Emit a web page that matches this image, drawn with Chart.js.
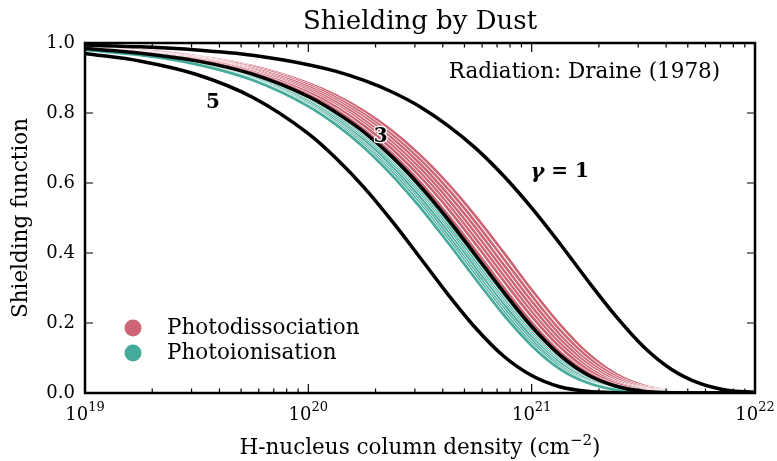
<!DOCTYPE html>
<html>
<head>
<meta charset="utf-8">
<title>Shielding by Dust</title>
<script src="https://cdn.jsdelivr.net/npm/chart.js@4.4.1/dist/chart.umd.min.js"></script>
<style>
  html, body { margin: 0; padding: 0; background: #fff; }
  canvas { display: block; }
</style>
</head>
<body>
<canvas id="shieldChart" width="777" height="461"></canvas>
<script>
// H-nucleus column density (cm^-2): quarter decades up to 1e20, eighth decades after
const columnDensity = [1e19, 1.778e19, 3.162e19, 5.623e19, 1e20, 1.334e20, 1.778e20, 2.371e20,
                       3.162e20, 4.217e20, 5.623e20, 7.499e20, 1e21, 1.334e21, 1.778e21,
                       2.371e21, 3.162e21, 4.217e21, 5.623e21, 7.499e21, 1e22];

// black reference curves, labelled by gamma
const shieldGamma1 = [0.994, 0.989, 0.980, 0.965, 0.938, 0.919, 0.893, 0.860, 0.818, 0.764, 0.699,
                      0.620, 0.529, 0.428, 0.322, 0.221, 0.133, 0.068, 0.028, 0.008, 0.002];
const shieldGamma3 = [0.984, 0.971, 0.949, 0.911, 0.847, 0.801, 0.745, 0.675, 0.592, 0.497, 0.393,
                      0.288, 0.190, 0.109, 0.052, 0.020, 0.005, 0.001, 0.000, 0.000, 0.000];
const shieldGamma5 = [0.970, 0.948, 0.910, 0.845, 0.741, 0.670, 0.587, 0.491, 0.387, 0.282, 0.185,
                      0.105, 0.050, 0.018, 0.005, 0.001, 0.000, 0.000, 0.000, 0.000, 0.000];

// one row per photodissociation rate
const photodissociation = [
  [0.988, 0.979, 0.962, 0.934, 0.885, 0.850, 0.805, 0.749, 0.680, 0.598, 0.504, 0.401, 0.295, 0.197, 0.114, 0.055, 0.021, 0.006, 0.001, 0.000, 0.000],
  [0.987, 0.978, 0.960, 0.931, 0.880, 0.843, 0.796, 0.738, 0.667, 0.583, 0.487, 0.383, 0.278, 0.181, 0.103, 0.048, 0.017, 0.005, 0.001, 0.000, 0.000],
  [0.987, 0.976, 0.958, 0.927, 0.875, 0.836, 0.788, 0.728, 0.655, 0.568, 0.471, 0.366, 0.262, 0.167, 0.092, 0.042, 0.014, 0.004, 0.001, 0.000, 0.000],
  [0.986, 0.975, 0.957, 0.924, 0.869, 0.830, 0.780, 0.717, 0.642, 0.554, 0.455, 0.350, 0.247, 0.155, 0.083, 0.036, 0.012, 0.003, 0.000, 0.000, 0.000],
  [0.986, 0.974, 0.955, 0.921, 0.864, 0.823, 0.771, 0.707, 0.630, 0.540, 0.440, 0.335, 0.232, 0.143, 0.075, 0.031, 0.010, 0.002, 0.000, 0.000, 0.000],
  [0.985, 0.973, 0.953, 0.918, 0.859, 0.817, 0.763, 0.697, 0.618, 0.527, 0.425, 0.320, 0.219, 0.132, 0.067, 0.027, 0.008, 0.002, 0.000, 0.000, 0.000],
  [0.984, 0.972, 0.951, 0.914, 0.852, 0.808, 0.752, 0.684, 0.603, 0.509, 0.407, 0.301, 0.202, 0.118, 0.058, 0.022, 0.006, 0.001, 0.000, 0.000, 0.000],
  [0.981, 0.967, 0.942, 0.900, 0.829, 0.778, 0.716, 0.640, 0.552, 0.453, 0.347, 0.244, 0.153, 0.082, 0.035, 0.012, 0.003, 0.000, 0.000, 0.000, 0.000]
];

// one row per photoionisation rate
const photoionisation = [
  [0.983, 0.970, 0.947, 0.908, 0.842, 0.795, 0.737, 0.665, 0.580, 0.484, 0.380, 0.275, 0.179, 0.101, 0.047, 0.017, 0.004, 0.001, 0.000, 0.000, 0.000],
  [0.983, 0.969, 0.946, 0.906, 0.839, 0.791, 0.731, 0.659, 0.573, 0.476, 0.372, 0.267, 0.172, 0.096, 0.044, 0.015, 0.004, 0.001, 0.000, 0.000, 0.000],
  [0.982, 0.969, 0.945, 0.904, 0.835, 0.787, 0.726, 0.653, 0.566, 0.468, 0.363, 0.259, 0.165, 0.091, 0.041, 0.014, 0.003, 0.001, 0.000, 0.000, 0.000],
  [0.982, 0.968, 0.943, 0.902, 0.832, 0.782, 0.721, 0.646, 0.559, 0.460, 0.355, 0.252, 0.159, 0.086, 0.038, 0.013, 0.003, 0.000, 0.000, 0.000, 0.000],
  [0.981, 0.967, 0.942, 0.899, 0.827, 0.776, 0.713, 0.637, 0.548, 0.449, 0.344, 0.241, 0.150, 0.079, 0.034, 0.011, 0.002, 0.000, 0.000, 0.000, 0.000],
  [0.981, 0.966, 0.940, 0.896, 0.823, 0.771, 0.707, 0.630, 0.540, 0.439, 0.334, 0.232, 0.142, 0.074, 0.031, 0.010, 0.002, 0.000, 0.000, 0.000, 0.000],
  [0.980, 0.965, 0.939, 0.894, 0.819, 0.766, 0.701, 0.622, 0.531, 0.430, 0.325, 0.223, 0.135, 0.069, 0.029, 0.009, 0.002, 0.000, 0.000, 0.000, 0.000]
];

// axis ticks
const xMajorTicks = [1e19, 1e20, 1e21, 1e22];
const xTickExponents = ['19', '20', '21', '22'];
const yTickStep = 0.2;

const ROSE = '#CC6677';
const TEAL = '#44AA99';
const FONT = "'DejaVu Serif', 'Liberation Serif', serif";

Chart.defaults.font.family = FONT;
Chart.defaults.color = '#000';

/**
 * Build the line datasets, bottom layer first. Coloured curves get a thin
 * white halo underneath so neighbouring lines stay apart.
 */
function buildDatasets() {
  const layers = [];
  function addCurve(values, color, width, halo) {
    const points = columnDensity.map((n, i) => ({ x: n, y: values[i] }));
    if (halo) {
      layers.push({ data: points.map(p => ({ ...p })), borderColor: '#ffffff', borderWidth: width + 1.3 });
    }
    layers.push({ data: points, borderColor: color, borderWidth: width });
  }
  photodissociation.forEach(v => addCurve(v, ROSE, 2.7, true));
  photoionisation.forEach(v => addCurve(v, TEAL, 2.7, true));
  [shieldGamma1, shieldGamma3, shieldGamma5].forEach(v => addCurve(v, '#000000', 3.5, false));

  // higher order is drawn first
  return layers.map((d, i) => ({
    ...d,
    order: layers.length - i,
    pointRadius: 0,
    pointHoverRadius: 0,
    fill: false,
    cubicInterpolationMode: 'monotone'
  }));
}

/**
 * Title, frame, inward ticks, x tick labels, x title, curve labels and legend
 */
const axisDecor = {
  id: 'axisDecor',
  afterDraw(chart) {
    const { ctx, chartArea: area, scales: { x, y } } = chart;
    const midX = (area.left + area.right) / 2;
    ctx.save();

    // ticks on all four sides
    ctx.strokeStyle = '#000';
    ctx.lineWidth = 1.2;
    ctx.beginPath();
    for (let e = 19; e < 22; e++) {
      for (let m = 2; m < 10; m++) {
        const px = x.getPixelForValue(m * Math.pow(10, e));
        ctx.moveTo(px, area.bottom); ctx.lineTo(px, area.bottom - 4.5);
        ctx.moveTo(px, area.top); ctx.lineTo(px, area.top + 4.5);
      }
    }
    xMajorTicks.forEach(v => {
      const px = x.getPixelForValue(v);
      ctx.moveTo(px, area.bottom); ctx.lineTo(px, area.bottom - 9);
      ctx.moveTo(px, area.top); ctx.lineTo(px, area.top + 9);
    });
    y.ticks.forEach(t => {
      const py = y.getPixelForValue(t.value);
      ctx.moveTo(area.left, py); ctx.lineTo(area.left + 8, py);
      ctx.moveTo(area.right, py); ctx.lineTo(area.right - 8, py);
    });
    ctx.stroke();

    // frame
    ctx.lineWidth = 2.5;
    ctx.strokeRect(area.left, area.top, area.width, area.height);

    // title over the plot box
    ctx.fillStyle = '#000';
    ctx.textBaseline = 'alphabetic';
    ctx.textAlign = 'center';
    ctx.font = `26px ${FONT}`;
    ctx.fillText('Shielding by Dust', midX, 29);

    // x tick labels as 10 with raised exponent
    ctx.textAlign = 'left';
    xMajorTicks.forEach((v, i) => {
      const px = x.getPixelForValue(v);
      ctx.font = `18px ${FONT}`;
      const wBase = ctx.measureText('10').width;
      ctx.font = `13px ${FONT}`;
      const wExp = ctx.measureText(xTickExponents[i]).width;
      const x0 = px - (wBase + wExp) / 2;
      ctx.font = `18px ${FONT}`;
      ctx.fillText('10', x0, area.bottom + 27);
      ctx.font = `13px ${FONT}`;
      ctx.fillText(xTickExponents[i], x0 + wBase, area.bottom + 18);
    });

    // x axis title
    const main = 'H-nucleus column density (cm';
    ctx.font = `21.5px ${FONT}`;
    const wMain = ctx.measureText(main).width;
    const wClose = ctx.measureText(')').width;
    ctx.font = `15px ${FONT}`;
    const wSup = ctx.measureText('\u22122').width;
    const tx = midX - (wMain + wSup + wClose) / 2;
    const ty = area.bottom + 61;
    ctx.font = `21.5px ${FONT}`;
    ctx.fillText(main, tx, ty);
    ctx.fillText(')', tx + wMain + wSup, ty);
    ctx.font = `15px ${FONT}`;
    ctx.fillText('\u22122', tx + wMain, ty - 9);

    // curve labels, with a thin white edge so they read over the lines
    ctx.textBaseline = 'middle';
    ctx.textAlign = 'center';
    ctx.font = `bold 20px ${FONT}`;
    ctx.strokeStyle = '#fff';
    ctx.lineWidth = 2.5;
    ctx.lineJoin = 'round';
    const p5 = [x.getPixelForValue(3.74e19), y.getPixelForValue(0.829)];
    const p3 = [x.getPixelForValue(2.11e20), y.getPixelForValue(0.731)];
    ctx.strokeText('3', p3[0], p3[1]);
    ctx.fillText('5', p5[0], p5[1]);
    ctx.fillText('3', p3[0], p3[1]);

    const gx = x.getPixelForValue(1.334e21);
    const gy = y.getPixelForValue(0.631);
    ctx.font = `italic bold 21px ${FONT}`;
    const wG = ctx.measureText('\u03b3').width;
    ctx.font = `bold 20px ${FONT}`;
    const wRest = ctx.measureText(' = 1').width;
    ctx.textAlign = 'left';
    ctx.font = `italic bold 21px ${FONT}`;
    ctx.fillText('\u03b3', gx - (wG + wRest) / 2, gy);
    ctx.font = `bold 20px ${FONT}`;
    ctx.fillText(' = 1', gx - (wG + wRest) / 2 + wG, gy);

    ctx.textAlign = 'right';
    ctx.font = `21.5px ${FONT}`;
    ctx.fillText('Radiation: Draine (1978)', area.left + 0.948 * area.width, area.top + 0.083 * area.height);

    // legend
    const legendItems = [['Photodissociation', ROSE], ['Photoionisation', TEAL]];
    ctx.textAlign = 'left';
    legendItems.forEach(([label, color], i) => {
      const cy = area.top + 0.814 * area.height + i * 25;
      ctx.fillStyle = color;
      ctx.beginPath();
      ctx.arc(area.left + 48, cy, 8.5, 0, Math.PI * 2);
      ctx.fill();
      ctx.fillStyle = '#000';
      ctx.font = `21.5px ${FONT}`;
      ctx.fillText(label, area.left + 82, cy + 1);
    });

    ctx.restore();
  }
};

const chart = new Chart(document.getElementById('shieldChart'), {
  type: 'line',
  data: { datasets: buildDatasets() },
  options: {
    responsive: false,
    animation: false,
    events: [],
    layout: { padding: { left: 0, right: 22, top: 43, bottom: 0 } },
    plugins: {
      legend: { display: false },
      tooltip: { enabled: false },
      title: { display: false }
    },
    scales: {
      x: {
        type: 'logarithmic',
        min: 1e19,
        max: 1e22,
        grid: { display: false, drawTicks: false },
        border: { display: false },
        ticks: { display: false },
        afterBuildTicks: scale => { scale.ticks = xMajorTicks.map(v => ({ value: v })); },
        afterFit: scale => { scale.height = 68; }
      },
      y: {
        min: 0,
        max: 1,
        grid: { display: false, drawTicks: false },
        border: { display: false },
        ticks: {
          stepSize: yTickStep,
          padding: 10,
          font: { size: 18 },
          color: '#000',
          callback: v => v.toFixed(1)
        },
        title: {
          display: true,
          text: 'Shielding function',
          font: { size: 21.5 },
          color: '#000',
          padding: { top: 9, bottom: 0 }
        },
        afterFit: scale => { scale.width = 85; }
      }
    }
  },
  plugins: [axisDecor]
});
</script>
</body>
</html>
